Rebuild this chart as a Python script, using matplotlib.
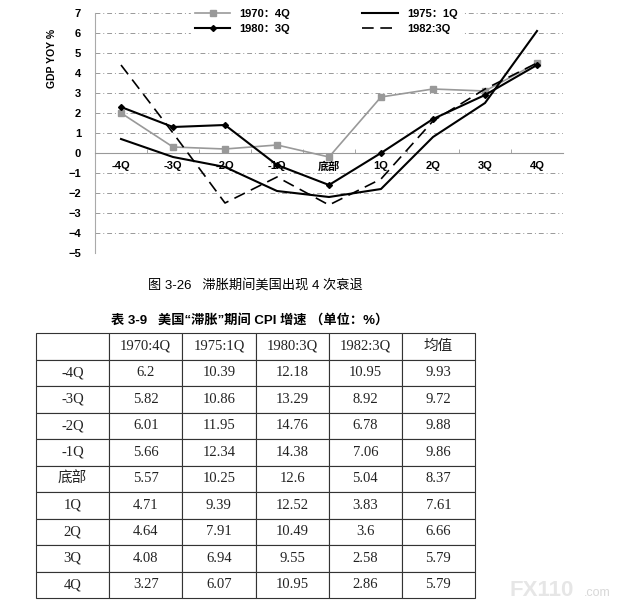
import matplotlib
matplotlib.use('Agg')
import matplotlib.pyplot as plt
import matplotlib.ticker as ticker

plt.rcParams['font.family'] = ['Liberation Sans', 'Noto Sans CJK SC']

# chart data: GDP YOY % around the trough
quarters = ['-4Q', '-3Q', '-2Q', '-1Q', '底部', '1Q', '2Q', '3Q', '4Q']
gdp_1970 = [2.0, 0.3, 0.2, 0.4, -0.2, 2.8, 3.2, 3.1, 4.5]
gdp_1975 = [0.7, -0.2, -0.7, -1.9, -2.2, -1.8, 0.8, 2.5, 6.1]
gdp_1980 = [2.3, 1.3, 1.4, -0.6, -1.6, 0.0, 1.7, 2.9, 4.4]
gdp_1982 = [4.4, 1.0, -2.5, -1.2, -2.6, -1.3, 1.6, 3.2, 4.5]

# table data: CPI growth
col_labels = ['', '1970:4Q', '1975:1Q', '1980:3Q', '1982:3Q', '均值']
cpi_1970 = [6.2, 5.82, 6.01, 5.66, 5.57, 4.71, 4.64, 4.08, 3.27]
cpi_1975 = [10.39, 10.86, 11.95, 12.34, 10.25, 9.39, 7.91, 6.94, 6.07]
cpi_1980 = [12.18, 13.29, 14.76, 14.38, 12.6, 12.52, 10.49, 9.55, 10.95]
cpi_1982 = [10.95, 8.92, 6.78, 7.06, 5.04, 3.83, 3.6, 2.58, 2.86]
cpi_mean = [9.93, 9.72, 9.88, 9.86, 8.37, 7.61, 6.66, 5.79, 5.79]

W, H = 621, 609
fig = plt.figure(figsize=(W / 100, H / 100), dpi=100)

# ---- line chart ----
ax = fig.add_axes([95 / W, 1 - 253 / H, 468 / W, 240 / H])
x = list(range(len(quarters)))

ax.plot(x, gdp_1970, color='#999999', lw=1.2, marker='s', ms=4.5, label='1970：4Q', zorder=3)
ax.plot(x, gdp_1980, color='black', lw=1.5, marker='D', ms=3, label='1980：3Q', zorder=4)
ax.plot(x, gdp_1975, color='black', lw=1.5, label='1975：1Q', zorder=4)
ax.plot(x, gdp_1982, color='black', lw=1.2, dashes=(7, 4), label='1982:3Q', zorder=4)

ax.set_xlim(-0.5, len(quarters) - 0.5)
ax.set_ylim(-5, 7)
ax.yaxis.set_major_locator(ticker.MultipleLocator(1))
ax.yaxis.grid(True, color='#999999', lw=0.7, linestyle=(0, (5, 3, 1, 3)))
ax.set_axisbelow(True)

for s in ['top', 'right']:
    ax.spines[s].set_visible(False)
ax.spines['bottom'].set_position(('data', 0))
ax.spines['bottom'].set_color('#999999')
ax.spines['left'].set_color('#aaaaaa')

ax.set_xticks(x)
ax.set_xticklabels(quarters, fontsize=8, fontweight='bold')
ax.set_xticks([i + 0.5 for i in x[:-1]], minor=True)
ax.tick_params(axis='x', which='major', length=0, pad=6)
ax.tick_params(axis='x', which='minor', length=3, direction='in', color='#999999')
ax.tick_params(axis='y', length=0, pad=10, labelsize=8)
for t in ax.get_yticklabels():
    t.set_fontweight('bold')

leg = ax.legend(ncol=2, loc='upper center', bbox_to_anchor=(0.494, 1.055),
                frameon=True, fancybox=False, edgecolor='white', facecolor='white',
                framealpha=1, handlelength=3.2, columnspacing=6.5, borderpad=0.3,
                labelspacing=0.5, prop={'size': 8, 'weight': 'bold'})
leg.set_zorder(5)

fig.text(52 / W, 1 - 58 / H, 'GDP YOY %', rotation=90, ha='center', va='center',
         fontsize=7.5, fontweight='bold')

fig.text(255 / W, 1 - 285 / H, '图 3-26   滞胀期间美国出现 4 次衰退', ha='center',
         va='center', fontsize=9.5)
fig.text(250 / W, 1 - 320 / H, '表 3-9   美国“滞胀”期间 CPI 增速 （单位：%）',
         ha='center', va='center', fontsize=9.5, fontweight='bold')

# ---- table ----
tax = fig.add_axes([36 / W, 1 - 598 / H, 439 / W, 265 / H])
tax.axis('off')
rows = [col_labels]
for i, q in enumerate(quarters):
    rows.append([q, str(cpi_1970[i]), str(cpi_1975[i]), str(cpi_1980[i]),
                 str(cpi_1982[i]), str(cpi_mean[i])])
tbl = tax.table(cellText=rows, cellLoc='center', bbox=[0, 0, 1, 1])
tbl.auto_set_font_size(False)
for (r, c), cell in tbl.get_celld().items():
    cell.set_edgecolor('#333333')
    cell.set_linewidth(0.8)
    txt = cell.get_text()
    txt.set_fontfamily(['Liberation Serif', 'Noto Sans CJK SC'])
    txt.set_fontsize(10.5)
    txt.set_color('#222222')

# watermark
fig.text(542 / W, 1 - 590 / H, 'FX110', ha='center', va='center', fontsize=16,
         fontweight='bold', color='#e4e4e4', alpha=0.9, zorder=10)
fig.text(584 / W, 1 - 593 / H, '.com', ha='left', va='center', fontsize=9,
         color='#d8d8d8', zorder=10)

fig.savefig('out.png', dpi=100)
